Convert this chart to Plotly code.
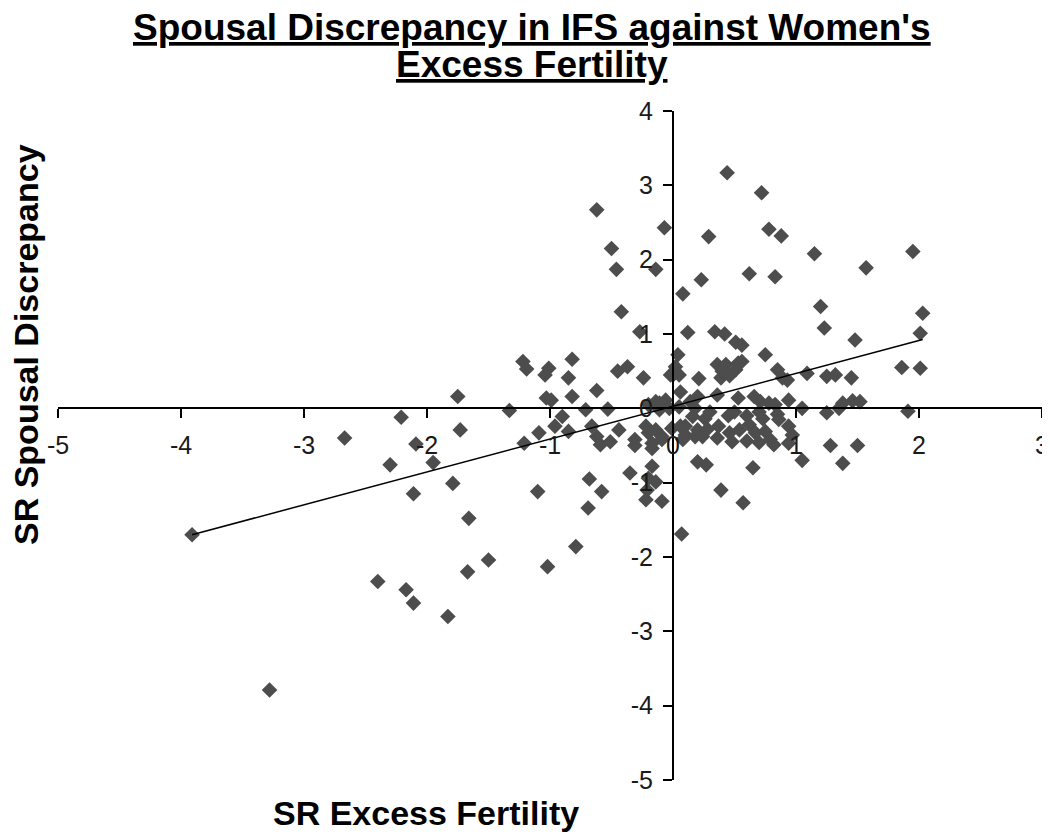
import plotly.graph_objects as go

# Women's SR excess fertility (x) and SR spousal discrepancy (y)
excess_fertility = [
    -3.91, -3.28, -2.67, -2.40, -2.30, -2.21, -2.17, -2.11, -2.11, -2.09,
    -1.95, -1.83, -1.79, -1.75, -1.73, -1.67, -1.66, -1.50, -1.33, -1.22,
    -1.19, -1.21, -1.10, -1.09, -1.04, -1.01, -1.03, -0.99, -1.02, -0.96,
    -0.90, -0.85, -0.85, -0.82, -0.82, -0.79, -0.71, -0.69, -0.68, -0.66,
    -0.62, -0.62, -0.62, -0.59, -0.58, -0.53, -0.51, -0.50, -0.46, -0.45,
    -0.44, -0.42, -0.37, -0.35, -0.31, -0.31, -0.27, -0.24, -0.22, -0.22,
    -0.21, -0.20, -0.20, -0.20, -0.17, -0.17, -0.17, -0.14, -0.14, -0.14,
    -0.14, -0.11, -0.11, -0.09, -0.09, -0.09, -0.07, -0.06, -0.03, -0.02,
    -0.01, 0.00, 0.02, 0.04, 0.05, 0.05, 0.06, 0.06, 0.07, 0.08,
    0.08, 0.10, 0.10, 0.12, 0.14, 0.16, 0.18, 0.18, 0.20, 0.20,
    0.20, 0.21, 0.23, 0.24, 0.26, 0.27, 0.28, 0.29, 0.30, 0.34,
    0.36, 0.36, 0.36, 0.37, 0.39, 0.39, 0.40, 0.42, 0.43, 0.44,
    0.45, 0.46, 0.46, 0.48, 0.50, 0.51, 0.51, 0.53, 0.53, 0.54,
    0.56, 0.56, 0.57, 0.60, 0.60, 0.62, 0.62, 0.65, 0.66, 0.67,
    0.70, 0.70, 0.71, 0.72, 0.73, 0.75, 0.75, 0.78, 0.78, 0.79,
    0.82, 0.83, 0.83, 0.85, 0.85, 0.86, 0.88, 0.89, 0.93, 0.94,
    0.94, 0.94, 0.97, 1.05, 1.05, 1.09, 1.15, 1.20, 1.23, 1.25,
    1.25, 1.28, 1.32, 1.35, 1.38, 1.38, 1.45, 1.46, 1.48, 1.50,
    1.52, 1.57, 1.86, 1.91, 1.95, 2.01, 2.01, 2.03,
]
spousal_discrepancy = [
    -1.70, -3.79, -0.40, -2.33, -0.76, -0.12, -2.44, -2.62, -1.15, -0.48,
    -0.73, -2.80, -1.01, 0.16, -0.29, -2.20, -1.48, -2.04, -0.03, 0.63,
    0.53, -0.47, -1.12, -0.33, 0.45, 0.54, 0.14, 0.11, -2.13, -0.24,
    -0.11, -0.31, 0.41, 0.66, 0.16, -1.86, -0.02, -1.34, -0.95, -0.24,
    0.24, -0.38, 2.67, -0.49, -1.12, -0.01, -0.45, 2.15, 1.87, 0.50,
    -0.29, 1.30, 0.56, -0.87, -0.42, -0.50, 1.03, 0.41, -0.24, -1.23,
    -1.10, -0.33, -0.94, 0.05, -0.54, -0.47, -0.78, 1.87, -0.29, 0.09,
    -0.99, 0.07, -0.02, -0.38, -0.42, -1.25, 2.43, 0.11, 0.00, 0.45,
    -0.27, 0.45, 0.56, 0.72, 0.02, 0.45, 0.22, -0.24, -1.69, 1.54,
    -0.42, -0.36, -0.24, 1.02, 0.09, -0.11, 0.00, -0.38, 0.16, -0.29,
    -0.72, 0.40, 1.73, -0.38, -0.14, -0.76, -0.28, 2.31, -0.05, 1.03,
    0.59, 0.18, -0.40, -0.24, 0.41, -1.10, 0.50, 1.00, 0.59, 3.17,
    -0.10, 0.44, -0.33, -0.45, -0.05, 0.89, 0.52, 0.61, 0.14, -0.29,
    0.85, 0.63, -1.27, -0.10, -0.44, 1.81, -0.22, -0.80, 0.16, -0.33,
    -0.05, -0.46, 0.09, 2.90, -0.14, 0.72, -0.31, 2.41, 0.07, -0.42,
    -0.49, 1.77, 0.05, 0.52, -0.08, -0.15, 2.32, 0.41, 0.38, 0.11,
    -0.24, -0.47, -0.36, 0.00, -0.70, 0.47, 2.08, 1.37, 1.08, 0.43,
    -0.06, -0.50, 0.45, 0.00, 0.07, -0.74, 0.41, 0.10, 0.92, -0.50,
    0.09, 1.89, 0.55, -0.04, 2.11, 0.54, 1.01, 1.28,
]

# Linear trend line
trend_slope = 0.442
trend_intercept = 0.028

x_tick_values = [-5, -4, -3, -2, -1, 0, 1, 2, 3]
x_tick_labels = ["-5", "-4", "-3", "-2", "-1", "0", "1", "2", "3"]
y_tick_values = [-5, -4, -3, -2, -1, 0, 1, 2, 3, 4]
y_tick_labels = ["-5", "-4", "-3", "-2", "-1", "0", "1", "2", "3", "4"]

title_lines = ["Spousal Discrepancy in IFS against Women's", "Excess Fertility"]
x_title = "SR Excess Fertility"
y_title = "SR Spousal Discrepancy"

x_range = [-5, 3]
y_range = [-5, 4]

trend_x = [min(excess_fertility), max(excess_fertility)]
trend_y = [trend_slope * v + trend_intercept for v in trend_x]

# figure geometry (the page adds an 8px body margin, so the figure is 8px smaller)
W, H = 1042, 828
ML, MR, MT, MB = 50, 8, 103, 56
PW, PH = W - ML - MR, H - MT - MB


def px_to_paper(fx, fy):
    return (fx - ML) / PW, (H - MB - fy) / PH


fig = go.Figure()
fig.add_trace(go.Scatter(
    x=excess_fertility, y=spousal_discrepancy, mode="markers",
    marker=dict(symbol="diamond", size=12, color="#4d4d4d", line=dict(width=0)),
    showlegend=False, hoverinfo="x+y",
))
fig.add_trace(go.Scatter(
    x=trend_x, y=trend_y, mode="lines",
    line=dict(color="#000000", width=1.5), showlegend=False, hoverinfo="skip",
))

tick_font = dict(family="Liberation Sans, Arial, sans-serif", size=25, color="#1a1a1a")
title_font = dict(family="Liberation Sans, Arial, sans-serif", size=37, color="#000000")
axis_title_font = dict(family="Liberation Sans, Arial, sans-serif", size=34, color="#000000")

annotations = []
for line_text, cy in zip(title_lines, [20, 57]):
    ax, ay = px_to_paper(524, cy)
    annotations.append(dict(
        text="<b><u>" + line_text + "</u></b>", xref="paper", yref="paper",
        x=ax, y=ay, xanchor="center", yanchor="middle", showarrow=False,
        font=title_font,
    ))
xt_x, xt_y = px_to_paper(418, 805)
annotations.append(dict(
    text="<b>" + x_title + "</b>", xref="paper", yref="paper",
    x=xt_x, y=xt_y, xanchor="center", yanchor="middle", showarrow=False,
    font=axis_title_font,
))
yt_x, yt_y = px_to_paper(18, 337)
annotations.append(dict(
    text="<b>" + y_title + "</b>", xref="paper", yref="paper",
    x=yt_x, y=yt_y, xanchor="center", yanchor="middle", textangle=-90,
    showarrow=False, borderpad=0, font=axis_title_font,
))

fig.update_layout(
    width=W, height=H,
    margin=dict(l=ML, r=MR, t=MT, b=MB, autoexpand=False),
    paper_bgcolor="white", plot_bgcolor="white",
    xaxis=dict(
        range=x_range, tickvals=x_tick_values, ticktext=x_tick_labels,
        anchor="free", position=(0 - y_range[0]) / (y_range[1] - y_range[0]),
        showline=True, linecolor="#000000", linewidth=2,
        ticks="outside", ticklen=9, tickwidth=2, tickcolor="#000000",
        ticklabelstandoff=6,
        showgrid=False, zeroline=False, tickfont=tick_font,
    ),
    yaxis=dict(
        range=y_range, tickvals=y_tick_values, ticktext=y_tick_labels,
        anchor="free", position=(0 - x_range[0]) / (x_range[1] - x_range[0]),
        showline=True, linecolor="#000000", linewidth=2,
        ticks="outside", ticklen=9, tickwidth=2, tickcolor="#000000",
        ticklabelstandoff=5,
        showgrid=False, zeroline=False, tickfont=tick_font,
    ),
    annotations=annotations,
)

fig.write_html("out.html")
